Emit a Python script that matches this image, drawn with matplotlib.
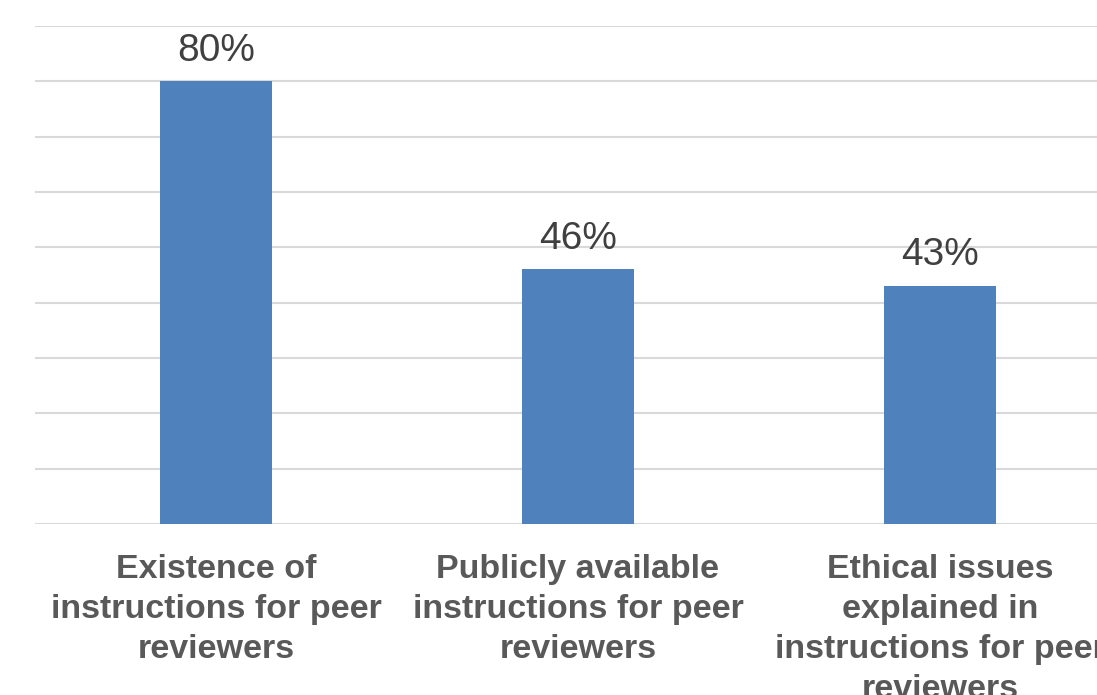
import matplotlib.pyplot as plt

categories = [
    "Existence of\ninstructions for peer\nreviewers",
    "Publicly available\ninstructions for peer\nreviewers",
    "Ethical issues\nexplained in\ninstructions for peer\nreviewers",
]
values = [80, 46, 43]
labels = ["80%", "46%", "43%"]

plt.rcParams['font.family'] = ['Liberation Sans', 'DejaVu Sans']

fig = plt.figure(figsize=(10.97, 6.95), dpi=100)
ax = fig.add_axes([35 / 1097, 1 - 524 / 695, (1121 - 35) / 1097, 498 / 695])

x = range(len(values))
bars = ax.bar(x, values, width=0.31, color='#4F81BD', zorder=3)
for b, lab in zip(bars, labels):
    ax.text(b.get_x() + b.get_width() / 2, b.get_height() + 2.3, lab,
            ha='center', va='bottom', fontsize=28, color='#404040')

ax.set_xlim(-0.5, 2.5)
ax.set_ylim(0, 90)
ax.set_yticks(range(0, 91, 10))
ax.yaxis.grid(True, color='#D9D9D9', linewidth=1.5, zorder=0)
ax.tick_params(axis='y', left=False, labelleft=False)
ax.tick_params(axis='x', bottom=False, pad=18)
ax.set_xticks(list(x))
ax.set_xticklabels(categories, fontsize=24.5, fontweight='bold', color='#595959',
                   va='top', linespacing=1.38)
for s in ax.spines.values():
    s.set_visible(False)

fig.savefig('out.png', dpi=100)
